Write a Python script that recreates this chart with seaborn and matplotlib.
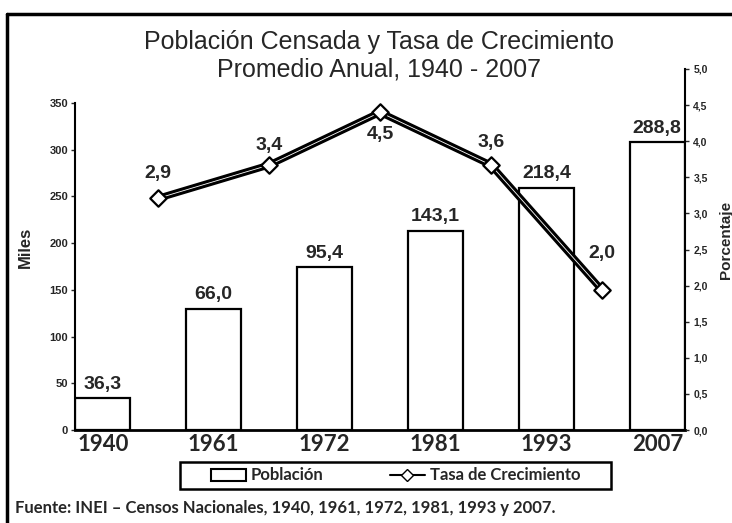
import numpy as np
import pandas as pd
import matplotlib
matplotlib.use('Agg')
import matplotlib.pyplot as plt
import seaborn as sns
from matplotlib import patheffects as pe
from matplotlib.lines import Line2D
from matplotlib.patches import Patch, Rectangle

# Values as drawn against the chart's own axes, labels as printed
years = ['1940', '1961', '1972', '1981', '1993', '2007']
poblacion = [34, 130, 174, 213, 259, 308]
poblacion_labels = ['36,3', '66,0', '95,4', '143,1', '218,4', '288,8']
tasa = [3.21, 3.67, 4.40, 3.67, 1.94]
tasa_labels = ['2,9', '3,4', '4,5', '3,6', '2,0']

sns.set_style('white')
plt.rcParams['font.family'] = ['Liberation Sans', 'DejaVu Sans']

W, H = 732, 523
fig = plt.figure(figsize=(W / 100, H / 100), dpi=100)
ax = fig.add_axes([75 / W, 1 - 430 / H, 610 / W, 361 / H])

# bars sit on even slots, growth points on odd slots in between
bar_x = np.arange(len(years)) * 2
rate_x = np.arange(len(tasa)) * 2 + 1

df_bar = pd.DataFrame({'x': bar_x, 'poblacion': poblacion})
sns.barplot(data=df_bar, x='x', y='poblacion', native_scale=True, width=0.5,
            color='white', edgecolor='black', linewidth=1.6, saturation=1, ax=ax)

for xi, h, lab in zip(bar_x, poblacion, poblacion_labels):
    ax.annotate(lab, (xi, h), xytext=(0, 4), textcoords='offset points',
                ha='center', va='bottom', fontsize=14, fontweight='bold')

ax.set_xlim(-0.5, 10.5)
ax.set_ylim(0, 386.4)
ax.set_yticks(range(0, 351, 50))
ax.set_xticks(bar_x, years)
ax.set_xticks(np.arange(-0.5, 11, 1), minor=True)
ax.set_xlabel('')
ax.set_ylabel('')
ax.tick_params(axis='x', which='major', length=0, pad=3)
ax.tick_params(axis='x', which='minor', direction='in', length=5, width=1.2)
ax.tick_params(axis='y', direction='out', length=3, width=1, pad=2, labelsize=8)
for t in ax.get_yticklabels():
    t.set_fontweight('bold')
for t in ax.get_xticklabels():
    t.set_fontfamily(['Lato', 'DejaVu Sans'])
    t.set_fontweight('bold')
    t.set_fontsize(16)
ax.spines['top'].set_visible(False)
ax.spines['right'].set_visible(False)
ax.spines['left'].set_bounds(0, 350)
ax.spines['left'].set_linewidth(1.5)
ax.spines['bottom'].set_linewidth(2)
for s in ['left', 'bottom']:
    ax.spines[s].set_color('black')

# growth rate on the right axis
ax2 = ax.twinx()
sns.lineplot(x=rate_x, y=tasa, ax=ax2, color='white', linewidth=0.6,
             path_effects=[pe.Stroke(linewidth=5, foreground='black'), pe.Normal()])
sns.scatterplot(x=rate_x, y=tasa, ax=ax2, marker='D', s=70, color='white',
                edgecolor='black', linewidth=1.6, zorder=4)
label_offsets = [18, 14, -16, 16, 26]
for xi, v, lab, off in zip(rate_x, tasa, tasa_labels, label_offsets):
    ax2.annotate(lab, (xi, v), xytext=(0, off), textcoords='offset points',
                 ha='center', va='center', fontsize=14, fontweight='bold')

ax2.set_ylim(0, 5)
rticks = np.arange(0, 5.01, 0.5)
ax2.set_yticks(rticks, [f'{v:.1f}'.replace('.', ',') for v in rticks])
ax2.tick_params(axis='y', direction='out', length=3, width=1, pad=3, labelsize=7.5)
for t in ax2.get_yticklabels():
    t.set_fontweight('bold')
for s in ['top', 'left', 'bottom']:
    ax2.spines[s].set_visible(False)
ax2.spines['right'].set_linewidth(1.5)
ax2.spines['right'].set_color('black')
ax2.set_xlim(-0.5, 10.5)

# titles and axis names
fig.text(379 / W, 1 - 42 / H, 'Población Censada y Tasa de Crecimiento',
         ha='center', va='center', fontsize=18)
fig.text(379 / W, 1 - 70 / H, 'Promedio Anual, 1940 - 2007',
         ha='center', va='center', fontsize=18)
fig.text(25 / W, 1 - 247 / H, 'Miles', rotation=90, ha='center', va='center',
         fontsize=12, fontweight='bold')
fig.text(726 / W, 1 - 240 / H, 'Porcentaje', rotation=90, ha='center', va='center',
         fontsize=11, fontweight='bold')

handles = [
    Patch(facecolor='white', edgecolor='black', linewidth=1.5, label='Población'),
    Line2D([], [], color='black', linewidth=1.5, marker='D', markersize=6,
           markerfacecolor='white', markeredgecolor='black', label='Tasa de Crecimiento'),
]
fig.legend(handles=handles, ncol=2, loc='center', bbox_to_anchor=(395.5 / W, 1 - 475.5 / H),
           frameon=False, handlelength=2.1, columnspacing=4.0, handletextpad=0.3,
           prop=dict(family=['Lato', 'DejaVu Sans'], weight='bold', size=12))
fig.add_artist(Rectangle((180 / W, 1 - 489 / H), 431 / W, 27 / H, transform=fig.transFigure,
                         fill=False, edgecolor='black', linewidth=1.8))

fig.text(15 / W, 1 - 508 / H,
         'Fuente: INEI – Censos Nacionales, 1940, 1961, 1972, 1981, 1993 y 2007.',
         ha='left', va='center', fontsize=12, fontweight='bold',
         family=['Lato', 'DejaVu Sans'])

# page frame
fig.add_artist(Line2D([7 / W, 7 / W], [0, 1 - 14 / H], transform=fig.transFigure,
                      color='black', linewidth=2.5))
fig.add_artist(Line2D([7 / W, 1], [1 - 14 / H, 1 - 14 / H], transform=fig.transFigure,
                      color='black', linewidth=2.5))

fig.savefig('out.png', dpi=100)
